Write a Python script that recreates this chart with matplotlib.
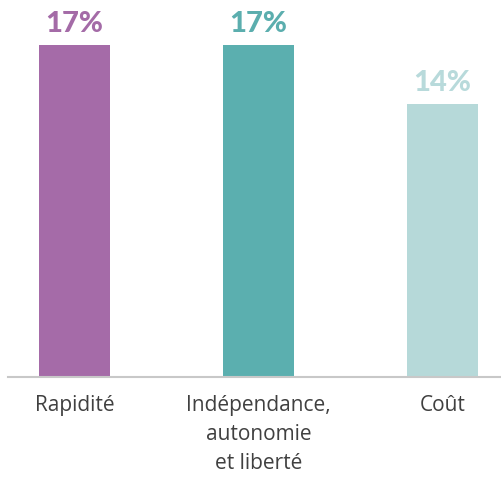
import matplotlib
matplotlib.use("Agg")
import matplotlib.pyplot as plt

# Data
categories = ['Rapidité', 'Indépendance,\nautonomie\net liberté', 'Coût']
values = [17, 17, 14]
bar_colors = ['#A56BA8', '#5BAFAF', '#B6D9D9']
label_colors = ['#A46BA7', '#5BAEAE', '#B8DADB']

fig = plt.figure(figsize=(5.02, 4.79), dpi=100)
ax = fig.add_axes([8 / 502, 102 / 479, 494 / 502, 377 / 479])

x = list(range(len(categories)))
ax.bar(x, values, width=0.386, color=bar_colors)

# Value labels above the bars
for i, v in enumerate(values):
    ax.text(i, v + 0.4, f'{v}%', ha='center', va='bottom',
            fontsize=21, fontweight=900, color=label_colors[i],
            family='Lato')

ax.set_xlim(-0.361, 2.323)
ax.set_ylim(0, 19.3)
ax.set_xticks(x)
ax.set_xticklabels(categories, fontsize=15, color='#404040',
                   family='Open Sans', linespacing=1.5)
ax.tick_params(axis='x', length=0, pad=13)
ax.set_yticks([])

for side in ['top', 'right', 'left']:
    ax.spines[side].set_visible(False)
ax.spines['bottom'].set_color('#C8C8C8')
ax.spines['bottom'].set_linewidth(1.5)

plt.savefig('out.png', dpi=100)
